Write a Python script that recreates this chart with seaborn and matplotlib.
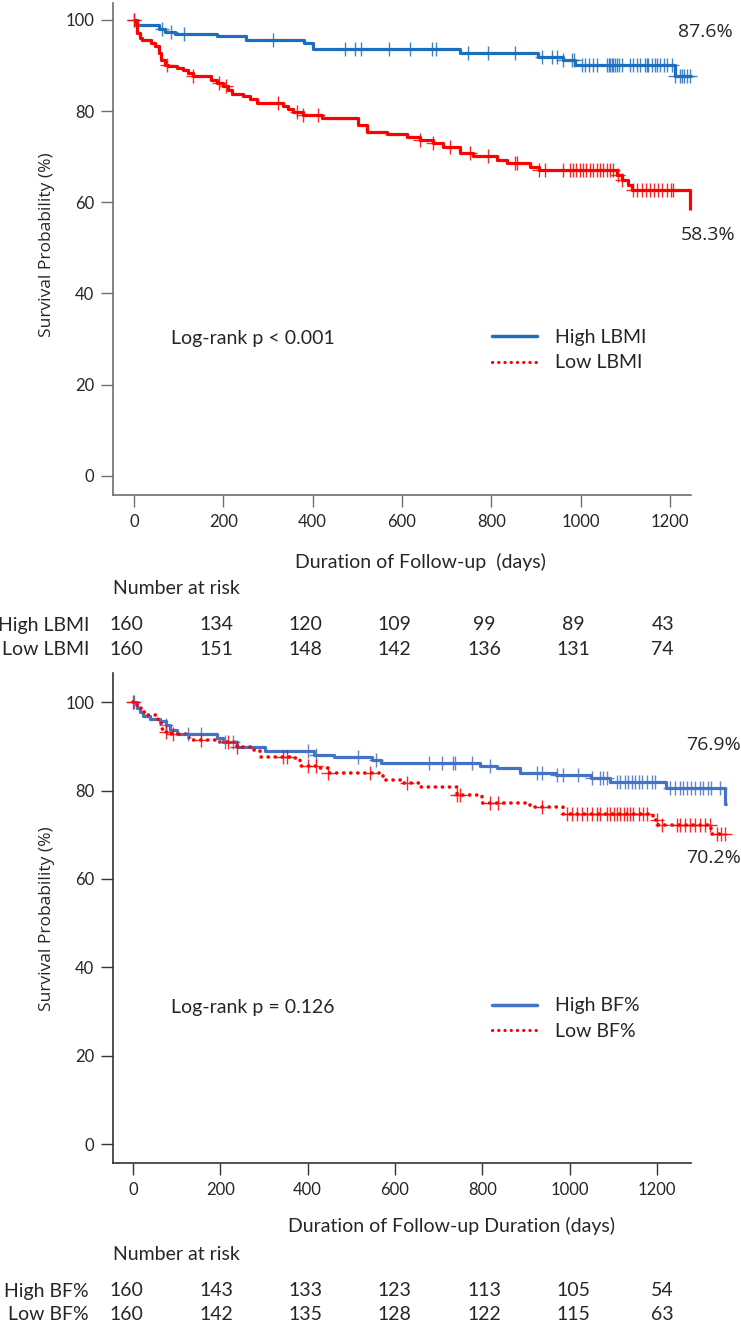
import numpy as np
import pandas as pd
import matplotlib
matplotlib.use("Agg")
import matplotlib.pyplot as plt
import matplotlib.transforms as mtransforms
from matplotlib.lines import Line2D
import seaborn as sns

# ---- values ----
risk_times = [0, 200, 400, 600, 800, 1000, 1200]

# panel 1: lean body mass index
lbmi_high_t = [0, 5, 57, 69, 92, 187, 250, 381, 402, 730, 905, 961, 988, 1212, 1249]
lbmi_high_s = [100, 98.9, 97.9, 97.4, 96.9, 96.5, 95.5, 95.0, 93.6, 92.7, 91.8, 91.2, 90.0, 87.6, 87.6]
lbmi_high_cens = [0, 62, 82, 112, 312, 473, 495, 509, 571, 618, 667, 676, 748, 793, 853,
                  914, 936, 947, 961, 982, 985, 1003, 1010, 1018, 1029, 1036, 1059, 1063,
                  1066, 1070, 1073, 1077, 1081, 1086, 1092, 1111, 1118, 1126, 1133, 1144,
                  1148, 1152, 1159, 1167, 1172, 1178, 1186, 1193, 1204, 1212, 1223, 1227,
                  1231, 1238, 1245]

lbmi_low_t = [0, 6, 13, 19, 37, 47, 57, 60, 69, 77, 97, 110, 122, 133, 172, 185, 200, 211,
              219, 245, 260, 275, 333, 346, 357, 379, 420, 502, 521, 567, 611, 640, 670,
              693, 730, 760, 812, 835, 887, 906, 1081, 1092, 1107, 1115, 1245]
lbmi_low_s = [100, 97.1, 96.0, 95.6, 95.0, 94.2, 92.7, 91.2, 90.1, 89.8, 89.4, 89.0, 88.3,
              87.6, 86.8, 86.1, 85.4, 84.6, 83.7, 83.2, 82.6, 81.7, 81.1, 80.4, 79.7, 79.2,
              78.4, 77.0, 75.5, 75.0, 74.3, 73.7, 73.0, 72.2, 70.8, 70.2, 69.3, 68.6, 67.8,
              67.0, 66.0, 64.9, 63.8, 62.7, 58.3]
lbmi_low_cens = [0, 75, 133, 190, 207, 323, 364, 379, 413, 641, 670, 708, 752, 793, 853, 857,
                 908, 921, 961, 976, 983, 991, 998, 1006, 1013, 1021, 1029, 1036, 1044, 1051,
                 1059, 1066, 1073, 1085, 1092, 1118, 1127, 1137, 1146, 1155, 1164, 1174,
                 1183, 1193, 1202, 1208]

lbmi_risk_high = [160, 134, 120, 109, 99, 89, 43]
lbmi_risk_low = [160, 151, 148, 142, 136, 131, 74]

# panel 2: body fat percentage
bf_high_t = [0, 10, 16, 22, 38, 61, 76, 84, 100, 192, 207, 238, 303, 414, 460, 548, 567,
             795, 833, 886, 970, 1050, 1092, 1222, 1356, 1360]
bf_high_s = [100, 98.6, 97.8, 96.8, 96.3, 95.8, 94.8, 93.8, 92.8, 91.9, 91.0, 89.8, 88.9,
             88.0, 87.6, 86.9, 86.3, 85.5, 85.0, 84.0, 83.5, 82.9, 82.0, 80.5, 76.9, 76.9]
bf_high_cens = [3, 76, 125, 156, 210, 229, 400, 418, 515, 557, 677, 707, 732, 738, 776, 818,
                925, 937, 971, 986, 1020, 1051, 1070, 1077, 1085, 1108, 1116, 1127, 1135,
                1142, 1150, 1158, 1165, 1177, 1188, 1196, 1230, 1241, 1253, 1260, 1268,
                1279, 1287, 1299, 1306, 1318, 1325, 1344]

bf_low_t = [0, 8, 19, 30, 56, 64, 76, 88, 129, 192, 238, 275, 290, 367, 382, 428, 447, 573,
            620, 657, 741, 799, 910, 986, 1192, 1203, 1324, 1356]
bf_low_s = [100, 98.6, 97.8, 97.2, 95.9, 94.0, 93.3, 92.9, 91.5, 91.0, 89.8, 89.1, 87.6,
            87.3, 85.5, 85.0, 83.9, 82.4, 81.7, 80.8, 79.0, 77.1, 76.3, 74.8, 73.3, 72.2,
            70.2, 70.2]
bf_low_cens = [0, 76, 92, 156, 218, 238, 344, 352, 400, 420, 447, 543, 627, 741, 749, 818,
               837, 937, 994, 1005, 1017, 1028, 1040, 1051, 1063, 1070, 1085, 1093, 1101,
               1108, 1116, 1124, 1131, 1139, 1146, 1158, 1169, 1177, 1200, 1211, 1245, 1253,
               1264, 1276, 1287, 1299, 1310, 1322, 1337, 1346, 1356]

bf_risk_high = [160, 143, 133, 123, 113, 105, 54]
bf_risk_low = [160, 142, 135, 128, 122, 115, 63]

RED = "#FF0000"
BLUE_TOP = "#1E6EBE"
BLUE_BOT = "#4472C4"
DOTS = (0, (0.05, 1.9))
TEXT_FONT = ["Lato", "DejaVu Sans"]
NUM_FONT = ["Open Sans", "DejaVu Sans"]

sns.set_theme(style="white")
plt.rcParams["font.family"] = TEXT_FONT


def km_curve(ax, t, s, cens, color, ls, lw=2.3):
    df = pd.DataFrame({"days": t, "surv": s})
    sns.lineplot(data=df, x="days", y="surv", drawstyle="steps-post", estimator=None,
                 sort=False, color=color, linestyle=ls, linewidth=lw, ax=ax,
                 dash_capstyle="round", solid_capstyle="butt")
    idx = np.searchsorted(t, cens, side="right") - 1
    cdf = pd.DataFrame({"days": cens, "surv": np.array(s)[idx]})
    sns.scatterplot(data=cdf, x="days", y="surv", marker="+", s=110, color=color,
                    linewidth=1.0, alpha=0.85, ax=ax, zorder=3)


def style_axes(ax, xlim, ylim, xbound, spine_col):
    ax.set_xlim(*xlim)
    ax.set_ylim(*ylim)
    ax.set_xticks(risk_times)
    ax.set_yticks([0, 20, 40, 60, 80, 100])
    ax.set_xlabel("")
    ax.set_ylabel("")
    for side in ["top", "right"]:
        ax.spines[side].set_visible(False)
    for side in ["left", "bottom"]:
        ax.spines[side].set_color(spine_col)
        ax.spines[side].set_linewidth(1.2)
    ax.spines["bottom"].set_bounds(*xbound)
    ax.tick_params(axis="both", direction="out", length=8.5, width=1.0,
                   color=spine_col, labelsize=12, left=True, bottom=True)
    ax.tick_params(axis="x", pad=5)
    ax.tick_params(axis="y", pad=5)
    ax.grid(False)


def add_legend(ax, blue, labels):
    handles = [Line2D([0], [0], color=blue, lw=2.5),
               Line2D([0], [0], color=RED, lw=2.3, linestyle=DOTS, dash_capstyle="round")]
    ax.legend(handles, labels, loc="upper left", bbox_to_anchor=(0.609, 0.338),
              frameon=False, fontsize=14, handlelength=2.3, handletextpad=0.95,
              labelspacing=0.45, borderpad=0, borderaxespad=0)


W, H = 741, 1329
fig = plt.figure(figsize=(W / 100, H / 100), dpi=100)
ax1 = fig.add_axes([113 / W, 1 - 495 / H, 622 / W, 492 / H])
ax2 = fig.add_axes([113 / W, 1 - 1163 / H, 622 / W, 490 / H])

# ---- panel 1 ----
km_curve(ax1, lbmi_high_t, lbmi_high_s, lbmi_high_cens, BLUE_TOP, "-")
km_curve(ax1, lbmi_low_t, lbmi_low_s, lbmi_low_cens, RED, "-")
style_axes(ax1, (-47, 1346), (-4.2, 103.7), (-47, 1248), "#6E6E6E")
add_legend(ax1, BLUE_TOP, ["High LBMI", "Low LBMI"])
ax1.text(0.093, 0.319, "Log-rank p < 0.001", transform=ax1.transAxes, fontsize=14,
         va="center", ha="left")
ax1.text(0.953, 0.941, "87.6%", transform=ax1.transAxes, fontsize=14,
         family=NUM_FONT, ha="center", va="center")
ax1.text(0.956, 0.528, "58.3%", transform=ax1.transAxes, fontsize=14,
         family=NUM_FONT, ha="center", va="center")

# ---- panel 2 ----
km_curve(ax2, bf_high_t, bf_high_s, bf_high_cens, BLUE_BOT, "-")
km_curve(ax2, bf_low_t, bf_low_s, bf_low_cens, RED, DOTS, lw=2.6)
style_axes(ax2, (-46, 1379), (-4.3, 106.6), (-46, 1278), "#333333")
add_legend(ax2, BLUE_BOT, ["High BF%", "Low BF%"])
ax2.text(0.093, 0.318, "Log-rank p = 0.126", transform=ax2.transAxes, fontsize=14,
         va="center", ha="left")
ax2.text(0.965, 0.853, "76.9%", transform=ax2.transAxes, fontsize=14,
         family=NUM_FONT, ha="center", va="center")
ax2.text(0.965, 0.622, "70.2%", transform=ax2.transAxes, fontsize=14,
         family=NUM_FONT, ha="center", va="center")

# ---- axis titles ----
for yc in [245, 919]:
    fig.text(47 / W, 1 - yc / H, "Survival Probability (%)", rotation=90, fontsize=12.5,
             family=NUM_FONT, ha="center", va="center")
fig.text(420 / W, 1 - 562 / H, "Duration of Follow-up  (days)", fontsize=14,
         ha="center", va="center")
fig.text(451 / W, 1 - 1226 / H, "Duration of Follow-up Duration (days)", fontsize=14,
         ha="center", va="center")

# ---- number at risk tables ----
trans = mtransforms.blended_transform_factory(ax1.transData, fig.transFigure)
tables = [
    (588, 625, 649, ["High LBMI", "Low LBMI"], [lbmi_risk_high, lbmi_risk_low]),
    (1254, 1291, 1314, ["High BF%", "Low BF%"], [bf_risk_high, bf_risk_low]),
]
for head_y, y_hi, y_lo, names, rows in tables:
    fig.text(113 / W, 1 - head_y / H, "Number at risk", fontsize=14, ha="left", va="center")
    for name, row, yy in zip(names, rows, [y_hi, y_lo]):
        fig.text(89 / W, 1 - yy / H, name, fontsize=14, ha="right", va="center")
        for t, n in zip(risk_times, row):
            ax1.text(t - 16, 1 - yy / H, str(n), transform=trans, fontsize=14,
                     ha="center", va="center", clip_on=False)

fig.savefig("out.png", dpi=100)
